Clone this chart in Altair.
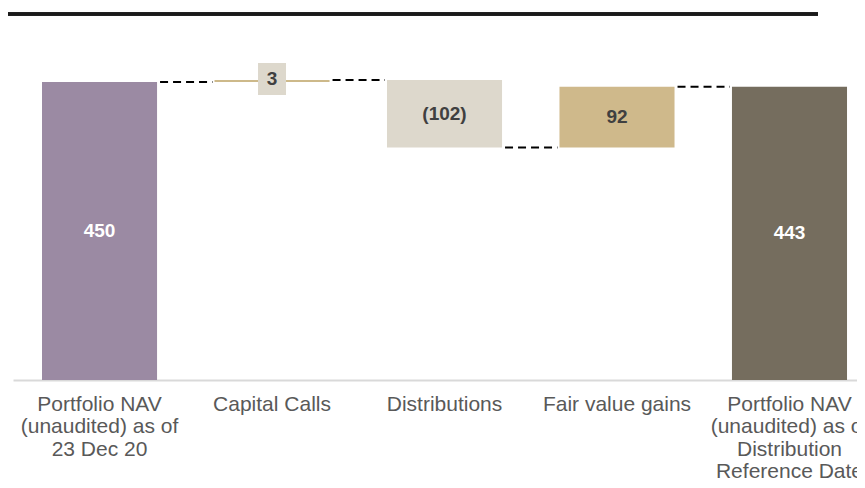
import altair as alt
import pandas as pd

categories = [
    "Portfolio NAV\n(unaudited) as of\n23 Dec 20",
    "Capital Calls",
    "Distributions",
    "Fair value gains",
    "Portfolio NAV\n(unaudited) as of\nDistribution\nReference Date",
]
kinds = ["total", "delta", "delta", "delta", "total"]
values = [450, 3, -102, 92, 443]
labels = ["450", "3", "(102)", "92", "443"]

bar_colors = ["#9b8aa3", "#cdb98a", "#ddd8cc", "#cfb98b", "#756d5e"]

# build waterfall table
rows = []
running = 0
for cat, kind, v, lab in zip(categories, kinds, values, labels):
    if kind == "total":
        start, end = 0, v
    else:
        start, end = running, running + v
    running = end
    rows.append({"category": cat, "kind": kind, "start": start, "end": end,
                 "mid": (start + end) / 2, "label": lab,
                 "small": abs(end - start) < 20})
df = pd.DataFrame(rows)

conn = pd.DataFrame([
    {"from": categories[i], "to": categories[i + 1], "level": rows[i]["end"]}
    for i in range(len(categories) - 1)
])

xscale = alt.Scale(domain=categories, paddingInner=0.333, paddingOuter=0.113, align=0.744)
yscale = alt.Scale(domain=[0, 552.7], nice=False, zero=True)

x_enc = alt.X(
    "category:N", sort=categories, scale=xscale, title=None,
    axis=alt.Axis(
        labelExpr="split(datum.label, '\\n')", labelAngle=0, ticks=False,
        domainColor="#d9d9d9", domainWidth=2, labelFont="Liberation Sans",
        labelFontSize=21, labelColor="#595959", labelLineHeight=22.5,
        labelPadding=13, labelAlign="center", labelBaseline="top",
        labelOverlap=False, labelLimit=300,
    ),
)

bars = alt.Chart(df).mark_bar().encode(
    x=x_enc,
    y=alt.Y("start:Q", scale=yscale, axis=None),
    y2="end:Q",
    color=alt.Color("category:N", scale=alt.Scale(domain=categories, range=bar_colors), legend=None),
)

box = alt.Chart(df).transform_filter("datum.small").mark_bar(
    width=28, color="#ddd8cc", yOffset=-17, y2Offset=15
).encode(
    x=alt.X("category:N", sort=categories),
    y=alt.Y("end:Q", scale=yscale),
    y2="end:Q",
)

text_big = alt.Chart(df).transform_filter("!datum.small").mark_text(
    font="Liberation Sans", fontSize=19, fontWeight="bold", baseline="middle"
).encode(
    x=alt.X("category:N", sort=categories),
    y=alt.Y("mid:Q", scale=yscale),
    text="label:N",
    color=alt.condition("datum.kind == 'total'", alt.value("#ffffff"), alt.value("#404040")),
)

text_small = alt.Chart(df).transform_filter("datum.small").mark_text(
    font="Liberation Sans", fontSize=19, fontWeight="bold", baseline="middle", color="#404040", yOffset=-1
).encode(
    x=alt.X("category:N", sort=categories),
    y=alt.Y("end:Q", scale=yscale),
    text="label:N",
)

connectors = alt.Chart(conn).mark_rule(
    strokeDash=[8, 5], strokeWidth=2, color="#000000", xOffset=3, x2Offset=-2
).encode(
    x=alt.X("from:N", sort=categories, bandPosition=1),
    x2=alt.X2("to:N", bandPosition=0),
    y=alt.Y("level:Q", scale=yscale),
)

top_line = alt.Chart(df).mark_rule(color="#1a1a1a", strokeWidth=3).encode(
    x=alt.value(-5), x2=alt.value(805), y=alt.value(0)
)

chart = alt.layer(bars, connectors, box, text_big, text_small, top_line).properties(
    width=844, height=366,
    autosize=alt.AutoSizeParams(type="none"),
    padding={"left": 5, "top": 6, "right": 0, "bottom": 100},
    background="white",
).configure_view(stroke=None)

chart.save("out.html", embed_options={"renderer": "svg", "actions": False})
